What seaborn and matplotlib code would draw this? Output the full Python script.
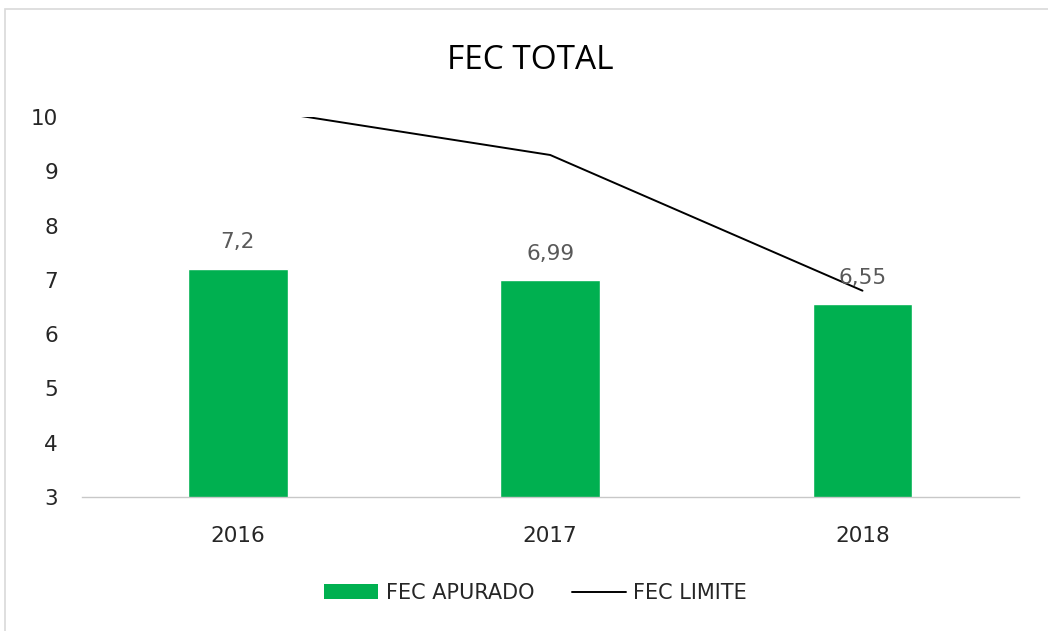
import matplotlib
matplotlib.use("Agg")
import matplotlib.pyplot as plt
from matplotlib.patches import Rectangle, Patch
from matplotlib.lines import Line2D
import numpy as np
import pandas as pd
import seaborn as sns

years = ["2016", "2017", "2018"]
fec_apurado = [7.2, 6.99, 6.55]
fec_limite = [10.2, 9.3, 6.8]
value_labels = ["7,2", "6,99", "6,55"]
y_ticks = [3, 4, 5, 6, 7, 8, 9, 10]

sns.set_theme(style="white")
plt.rcParams["font.family"] = ["DejaVu Sans"]

GREEN = "#00B050"
TEXT = "#262626"

fig = plt.figure(figsize=(10.48, 6.31), dpi=100)
ax = fig.add_axes([0.078, 0.2124, 0.894, 0.6022])

df = pd.DataFrame({"year": years, "value": fec_apurado})
sns.barplot(data=df, x="year", y="value", color=GREEN, width=0.32,
            saturation=1, ax=ax, zorder=2)
sns.lineplot(x=np.arange(len(years)), y=fec_limite, color="black",
             linewidth=1.4, ax=ax, zorder=3)

ax.bar_label(ax.containers[0], labels=value_labels, padding=12,
             fontsize=15.5, color="#595959")

ax.set_ylim(3, 10)
ax.set_xlim(-0.5, len(years) - 0.5)
ax.set_yticks(y_ticks)
ax.tick_params(axis="y", length=0, pad=17, labelsize=15.5, labelcolor=TEXT)
ax.tick_params(axis="x", length=0, pad=21, labelsize=15.5, labelcolor=TEXT)
ax.set_xlabel("")
ax.set_ylabel("")
for side in ["left", "right", "top"]:
    ax.spines[side].set_visible(False)
ax.spines["bottom"].set_color("#C8C8C8")
ax.spines["bottom"].set_linewidth(1.0)
ax.spines["bottom"].set_linestyle((0, (3, 1)))

fig.text(0.506, 0.904, "FEC TOTAL", ha="center", va="center",
         fontsize=24, color="black",
         family=["Liberation Sans Narrow", "Open Sans", "DejaVu Sans"])

handles = [Patch(facecolor=GREEN, edgecolor="none"),
           Line2D([0], [0], color="black", linewidth=1.4)]
fig.legend(handles, ["FEC APURADO", "FEC LIMITE"], loc="center",
           bbox_to_anchor=(0.511, 0.06), ncol=2, frameon=False,
           fontsize=15, handlelength=2.6, handleheight=0.72,
           columnspacing=1.8, handletextpad=0.35, labelcolor=TEXT)

# light frame around the chart area
fig.patches.append(Rectangle((5 / 1048, -0.1), 1.2, (631 - 9) / 631 + 0.1,
                             transform=fig.transFigure, fill=False,
                             edgecolor="#D9D9D9", linewidth=1.2))

fig.savefig("out.png", dpi=100, facecolor="white")
